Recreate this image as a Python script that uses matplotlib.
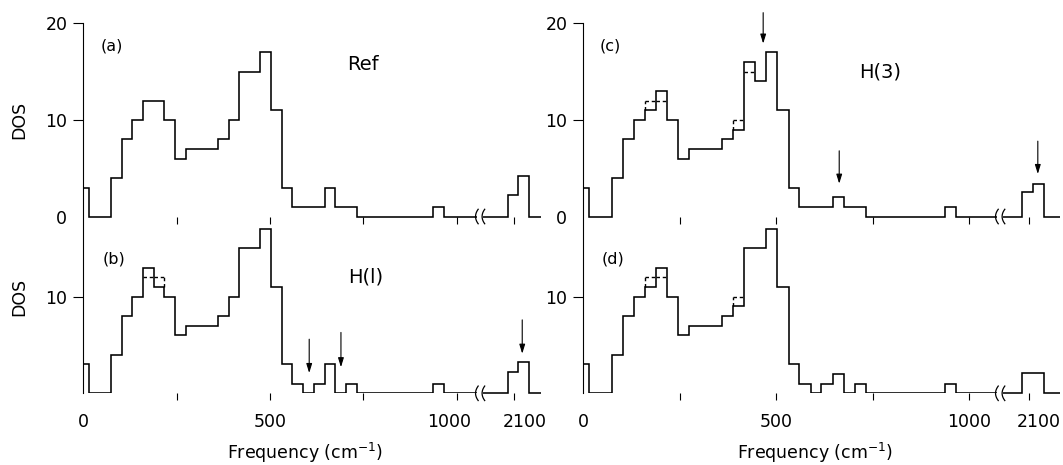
import numpy as np
import matplotlib
matplotlib.use("Agg")
import matplotlib.pyplot as plt
import matplotlib.transforms as mtransforms

plt.rcParams['font.family'] = ['DejaVu Sans']

# ---------------- data ----------------
# histogram bin edges, cm^-1
edges_low = [0, 14, 74, 103, 131, 160, 189, 217, 246, 274, 303, 332, 360,
             389, 417, 446, 474, 503, 532, 560, 589, 617, 646, 675, 703, 732]
edges_iso = [936, 965]
edges_high = [2082, 2111, 2140]

# DOS values per bin (low region)
dos_a = [3, 0, 4, 8, 10, 12, 12, 10, 6, 7, 7, 7, 8, 10, 15, 15, 17, 11, 3, 1, 1, 1, 3, 1, 1]
dos_b = [3, 0, 4, 8, 10, 13, 11, 10, 6, 7, 7, 7, 8, 10, 15, 15, 17, 11, 3, 1, 0, 1, 3, 0, 1]
dos_c = [3, 0, 4, 8, 10, 11, 13, 10, 6, 7, 7, 7, 8, 9, 16, 14, 17, 11, 3, 1, 1, 1, 2, 1, 1]
dos_d = [3, 0, 4, 8, 10, 11, 13, 10, 6, 7, 7, 7, 8, 9, 15, 15, 17, 11, 3, 1, 0, 1, 2, 0, 1]

# dashed (alternative) histograms
dos_b_alt = [3, 0, 4, 8, 10, 12, 12, 10, 6, 7, 7, 7, 8, 10, 15, 15, 17, 11, 3, 1, 0, 1, 3, 0, 1]
dos_c_alt = [3, 0, 4, 8, 10, 12, 12, 10, 6, 7, 7, 7, 8, 10, 15, 14, 17, 11, 3, 1, 1, 1, 2, 1, 1]
dos_d_alt = [3, 0, 4, 8, 10, 12, 12, 10, 6, 7, 7, 7, 8, 10, 15, 15, 17, 11, 3, 1, 0, 1, 2, 0, 1]

# isolated bin near 950 cm^-1
iso_a = [1]
iso_b = [1]
iso_c = [1]
iso_d = [1]

# bins beyond the axis break (~2100 cm^-1)
high_a = [2.2, 4.2]
high_b = [2.2, 3.2]
high_c = [2.5, 3.4]
high_d = [2.1, 2.1]

# arrows: (frequency, tail DOS, tip DOS)
arrows_b = [(605, 5.6, 2.1), (690, 6.3, 2.7), (2121, 7.6, 4.1)]
arrows_c = [(466, 21.1, 17.9), (663, 6.8, 3.4), (2123, 7.8, 4.4)]

xtick_vals = [0, 250, 500, 750, 1000, 2100]
xtick_labels = ['0', '', '500', '', '1000', '2100']

# ---------------- broken frequency axis ----------------
B1 = 1062.0
SHIFT = 945.5


def xpos(f):
    """Map frequency to position on the broken axis."""
    f = np.asarray(f, dtype=float)
    return np.where(f <= B1, f, f - SHIFT)


OFF = 18.3  # vertical offset of lower-panel baseline

W, H = 1063, 465
fig = plt.figure(figsize=(W / 100, H / 100), dpi=100)

LW = 1.15
AXLW = 0.9
FS = 12.5


def dashed_alt(ax, solid, alt, base):
    s = np.asarray(solid, float)
    a = np.asarray(alt, float)
    e = xpos(edges_low)
    diff = np.where(s != a)[0]
    kw = dict(color='k', lw=1.0, ls=(0, (2.5, 2)), zorder=2, solid_capstyle='butt')
    for i in diff:
        ax.plot([e[i], e[i + 1]], [a[i] + base, a[i] + base], **kw)
    edges_to_check = sorted(set(list(diff) + list(diff + 1)))
    for k in edges_to_check:
        if k <= 0 or k >= len(s):
            continue
        a0, a1 = sorted((a[k - 1], a[k]))
        s0, s1 = sorted((s[k - 1], s[k]))
        pieces = []
        if a0 < s0:
            pieces.append((a0, min(a1, s0)))
        if a1 > s1:
            pieces.append((max(a0, s1), a1))
        for p0, p1 in pieces:
            if p1 > p0:
                ax.plot([e[k], e[k]], [p0 + base, p1 + base], **kw)


columns = [
    dict(x0=83.3, scale=0.3734, pend=1226, brk=(1053.5, 1071.0),
         top=(dos_a, None, iso_a, high_a, [], '(a)', (77, 17.6), 'Ref', (749, 15.7)),
         bot=(dos_b, dos_b_alt, iso_b, high_b, arrows_b, '(b)', (82, -4.4), 'H(l)', (757, -6.3)),
         xlabel_x=305, dos=True, shifts={4: -8, 5: 10}),
    dict(x0=583.3, scale=0.386, pend=1235, brk=(1071.0, 1088.0),
         top=(dos_c, dos_c_alt, iso_c, high_c, arrows_c, '(c)', (69, 17.6), 'H(3)', (768, 15.0)),
         bot=(dos_d, dos_d_alt, iso_d, high_d, [], '(d)', (77, -4.4), None, None),
         xlabel_x=815, dos=False, shifts={5: 10}),
]

y_top_px = 23.3
y_bot_px = 393.3
Y_SCALE = (y_bot_px - y_top_px) / (20 + OFF)   # px per DOS unit

for col in columns:
    width_px = col['pend'] * col['scale']
    rect = [col['x0'] / W, 1 - y_bot_px / H, width_px / W, (y_bot_px - y_top_px) / H]
    ax = fig.add_axes(rect)
    xend = float(col['pend'])
    b1, b2 = col['brk']

    for panel, base in ((col['top'], 0.0), (col['bot'], -OFF)):
        vals, alt, iso, high, arrows, tag, tagpos, name, namepos = panel
        if alt is not None:
            dashed_alt(ax, vals, alt, base)
        # left part of the axis: low bins, gap, isolated bin, gap up to the break
        e_left = np.concatenate([xpos(edges_low), xpos(edges_iso), [b1]])
        v_left = np.concatenate([vals, [0], iso, [0]])
        ax.stairs(v_left + base, e_left, baseline=base, fill=False,
                  color='k', lw=LW, zorder=3)
        # right part of the axis, after the break
        e_right = np.concatenate([[b2], xpos(edges_high), [xend]])
        v_right = np.concatenate([[0], high, [0]])
        ax.stairs(v_right + base, e_right, baseline=base, fill=False,
                  color='k', lw=LW, zorder=3, clip_on=False)
        # break marks
        t = np.linspace(-1, 1, 20)
        for bx in (b1, b2):
            ax.plot(bx + 7 * t ** 2 - 3, base + 0.75 * t, color='k', lw=0.9,
                    zorder=4, clip_on=False)
        # arrows
        for fx, tail, tip in arrows:
            px = float(xpos(fx))
            ax.annotate('', xy=(px, tip + base), xytext=(px, tail + base),
                        xycoords='data', textcoords='data', annotation_clip=False,
                        arrowprops=dict(arrowstyle='-|>,head_length=0.55,head_width=0.17',
                                        color='k', lw=0.8, shrinkA=0, shrinkB=0))
        ax.text(tagpos[0], tagpos[1], tag, fontsize=11.5, ha='center', va='center')
        if name:
            ax.text(namepos[0], namepos[1], name, fontsize=14, ha='center', va='center')

    ax.set_xlim(0, xend)
    ax.set_ylim(-OFF, 20)
    for s in ('top', 'right', 'bottom'):
        ax.spines[s].set_visible(False)
    ax.spines['left'].set_linewidth(0.8)

    # x ticks (lower panel)
    ax.set_xticks(xpos(xtick_vals), labels=xtick_labels)
    ax.tick_params(axis='x', direction='out', length=5, width=0.8, pad=9,
                   labelsize=FS)
    xt = ax.xaxis.get_major_ticks()
    xt[0].tick1line.set_visible(False)
    for i, dx in col['shifts'].items():
        lab = xt[i].label1
        lab.set_transform(lab.get_transform() +
                          mtransforms.ScaledTranslation(dx / 100, 0, fig.dpi_scale_trans))

    # y ticks
    ax.set_yticks([20, 10, 0, 10 - OFF], labels=['20', '10', '0', '10'])
    ax.tick_params(axis='y', direction='out', length=7.5, width=0.8, pad=4,
                   labelsize=FS)
    ax.yaxis.get_major_ticks()[2].tick1line.set_visible(False)

    # tick marks on the upper-panel baseline (separate, frameless axes)
    y0_px = y_top_px + 20 * Y_SCALE
    axt = fig.add_axes([rect[0], 1 - y0_px / H, rect[2], 20 * Y_SCALE / H])
    axt.set_xlim(0, xend)
    axt.patch.set_visible(False)
    for s in axt.spines.values():
        s.set_visible(False)
    axt.set_yticks([])
    axt.set_xticks(xpos(xtick_vals[1:]), labels=[''] * (len(xtick_vals) - 1))
    axt.tick_params(axis='x', direction='out', length=5, width=0.8)

    fig.text(col['xlabel_x'] / W, 1 - 453 / H, 'Frequency (cm$^{-1}$)',
             ha='center', va='center', fontsize=FS)
    if col['dos']:
        fig.text(19 / W, 1 - 120 / H, 'DOS', rotation=90, ha='center',
                 va='center', fontsize=FS)
        fig.text(19 / W, 1 - 297 / H, 'DOS', rotation=90, ha='center',
                 va='center', fontsize=FS)

fig.savefig('out.png', dpi=100, facecolor='white')
